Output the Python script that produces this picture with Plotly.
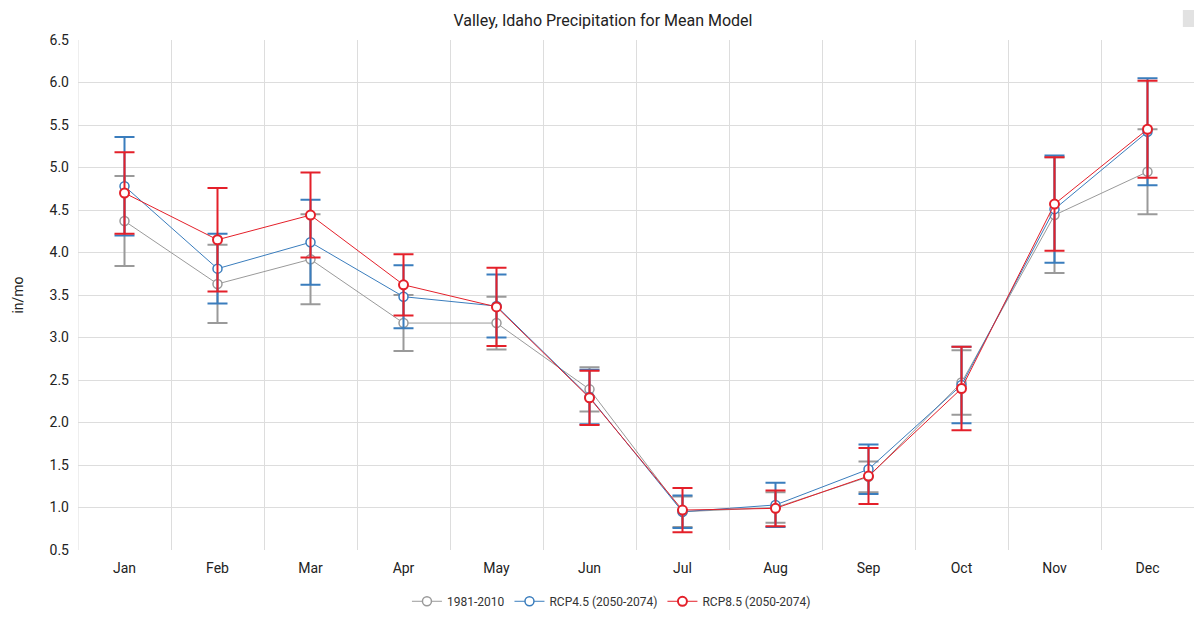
import plotly.graph_objects as go

months = ["Jan", "Feb", "Mar", "Apr", "May", "Jun", "Jul", "Aug", "Sep", "Oct", "Nov", "Dec"]

# Monthly mean precipitation (in/mo) and symmetric spread for each period
hist_mean = [4.37, 3.63, 3.92, 3.17, 3.17, 2.39, 0.95, 1.00, 1.36, 2.47, 4.44, 4.95]
hist_err = [0.53, 0.46, 0.53, 0.33, 0.31, 0.26, 0.18, 0.18, 0.18, 0.38, 0.68, 0.50]

rcp45_mean = [4.78, 3.81, 4.12, 3.48, 3.37, 2.30, 0.95, 1.03, 1.45, 2.44, 4.51, 5.42]
rcp45_err = [0.58, 0.41, 0.50, 0.37, 0.37, 0.32, 0.19, 0.26, 0.29, 0.45, 0.63, 0.63]

rcp85_mean = [4.70, 4.15, 4.44, 3.62, 3.36, 2.29, 0.97, 0.99, 1.37, 2.40, 4.57, 5.45]
rcp85_err = [0.48, 0.61, 0.50, 0.36, 0.46, 0.32, 0.26, 0.21, 0.33, 0.49, 0.55, 0.57]

y_ticks = [0.5, 1.0, 1.5, 2.0, 2.5, 3.0, 3.5, 4.0, 4.5, 5.0, 5.5, 6.0, 6.5]

series = [
    ("1981-2010", hist_mean, hist_err, "#9a9a9a", 1.5),
    ("RCP4.5 (2050-2074)", rcp45_mean, rcp45_err, "#3a7dbd", 1.5),
    ("RCP8.5 (2050-2074)", rcp85_mean, rcp85_err, "#e4202a", 2),
]

x_pos = list(range(len(months)))

fig = go.Figure()
for name, mean, err, color, mlw in series:
    fig.add_trace(go.Scatter(
        x=x_pos,
        y=mean,
        name=name,
        mode="lines+markers",
        line=dict(color=color, width=1),
        marker=dict(symbol="circle", size=9, color="white",
                    line=dict(color=color, width=mlw)),
        error_y=dict(type="data", array=err, symmetric=True,
                     color=color, thickness=2, width=10),
    ))

fig.update_layout(
    width=1194,
    height=622,
    paper_bgcolor="white",
    plot_bgcolor="white",
    margin=dict(l=78, r=0, t=40, b=72),
    font=dict(family="Roboto, Arial, sans-serif", color="#222222"),
    title=dict(text="Valley, Idaho Precipitation for Mean Model",
               x=0.505, xref="container", xanchor="center",
               y=0.968, yref="container", yanchor="middle",
               font=dict(size=16, color="#222222")),
    showlegend=True,
    legend=dict(orientation="h", x=0.478, xanchor="center",
                y=0.01, yref="container", yanchor="bottom",
                font=dict(size=12, color="#333333"),
                itemwidth=30, tracegroupgap=0),
    hovermode="closest",
)

fig.update_xaxes(
    range=[-0.5, 11.5],
    tickmode="array",
    tickvals=x_pos,
    ticktext=months,
    showgrid=False,
    zeroline=False,
    showline=False,
    tickfont=dict(size=14, color="#222222"),
    ticks="",
    ticklabelstandoff=8,
    minor=dict(tick0=0.5, dtick=1, showgrid=True, gridcolor="#dddddd", gridwidth=1),
    fixedrange=True,
)

fig.update_yaxes(
    range=[0.5, 6.5],
    tickmode="array",
    tickvals=y_ticks,
    ticktext=[f"{v:.1f}" for v in y_ticks],
    showgrid=True,
    gridcolor="#dddddd",
    gridwidth=1,
    zeroline=False,
    showline=False,
    tickfont=dict(size=14, color="#222222"),
    ticklabelstandoff=8,
    title=dict(text="in/mo", font=dict(size=14, color="#222222"), standoff=22),
    fixedrange=True,
)

# left edge grid line of the first month band
fig.add_shape(type="line", xref="x", yref="paper", x0=-0.5, x1=-0.5, y0=0, y1=1,
              line=dict(color="#dddddd", width=1))

# small menu button in the top-right corner
fig.add_shape(type="rect", xref="paper", yref="paper",
              x0=0.990, x1=1.0, y0=1.0255, y1=1.0588,
              fillcolor="#e2e2e2", line=dict(width=0), layer="above")

fig.write_html("out.html")
